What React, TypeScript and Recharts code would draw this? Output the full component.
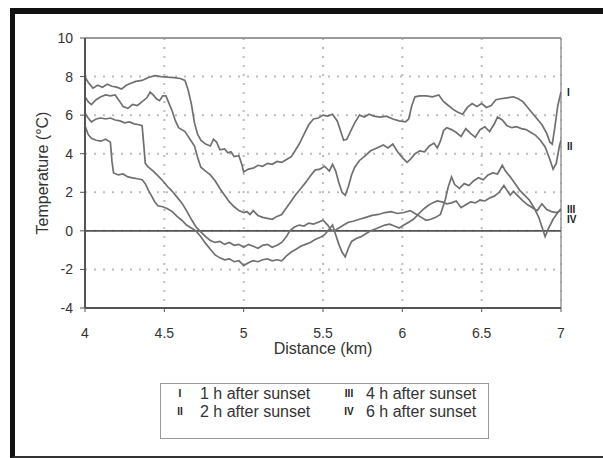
import React from 'react';
import { LineChart, Line, XAxis, YAxis, CartesianGrid, ReferenceLine, ReferenceDot } from 'recharts';

// [distance km, temperature °C]
const oneHour = [
  [4.0, 7.98], [4.02, 7.7], [4.05, 7.4], [4.08, 7.55], [4.11, 7.45], [4.14, 7.6], [4.17, 7.5], [4.2, 7.45],
  [4.23, 7.35], [4.26, 7.55], [4.29, 7.65], [4.32, 7.75], [4.36, 7.8], [4.4, 7.95], [4.44, 8.05], [4.48, 8.0],
  [4.52, 7.97], [4.56, 7.95], [4.6, 7.9], [4.63, 7.8], [4.65, 7.3], [4.67, 6.6], [4.69, 5.6], [4.71, 5.0],
  [4.73, 4.7], [4.76, 4.5], [4.79, 4.4], [4.81, 4.75], [4.83, 4.6], [4.85, 4.2], [4.88, 4.25], [4.9, 4.05],
  [4.92, 4.1], [4.94, 3.85], [4.97, 3.9], [4.99, 3.4], [5.0, 3.05], [5.03, 3.2], [5.06, 3.25], [5.09, 3.4],
  [5.12, 3.35], [5.15, 3.5], [5.18, 3.45], [5.21, 3.6], [5.24, 3.55], [5.27, 3.7], [5.3, 3.85], [5.32, 4.1],
  [5.35, 4.5], [5.38, 5.0], [5.41, 5.5], [5.44, 5.8], [5.47, 5.85], [5.5, 6.0], [5.53, 5.95], [5.56, 6.05],
  [5.59, 5.7], [5.61, 5.2], [5.63, 4.7], [5.65, 4.75], [5.67, 5.1], [5.7, 5.6], [5.73, 6.0], [5.76, 5.9],
  [5.79, 6.05], [5.82, 5.95], [5.86, 5.9], [5.9, 5.95], [5.94, 5.8], [5.98, 5.7], [6.02, 5.65], [6.04, 5.8],
  [6.06, 6.5], [6.08, 6.95], [6.11, 7.0], [6.15, 7.0], [6.19, 6.95], [6.23, 7.05], [6.26, 6.7], [6.29, 6.5],
  [6.32, 6.3], [6.35, 6.15], [6.38, 6.05], [6.41, 6.4], [6.44, 6.6], [6.47, 6.45], [6.5, 6.6], [6.53, 6.4],
  [6.56, 6.5], [6.59, 6.8], [6.62, 6.85], [6.66, 6.9], [6.7, 6.95], [6.73, 6.85], [6.76, 6.7], [6.79, 6.4],
  [6.82, 6.1], [6.85, 5.8], [6.88, 5.5], [6.91, 5.05], [6.93, 4.6], [6.945, 4.5], [6.96, 5.3], [6.98, 6.5],
  [7.0, 7.2],
];

const twoHours = [
  [4.0, 6.95], [4.02, 6.7], [4.04, 6.55], [4.07, 6.8], [4.1, 6.95], [4.13, 7.05], [4.16, 7.0], [4.19, 7.05],
  [4.22, 6.7], [4.24, 6.45], [4.27, 6.35], [4.3, 6.55], [4.33, 6.5], [4.36, 6.7], [4.39, 6.9], [4.41, 7.2],
  [4.43, 7.05], [4.45, 6.85], [4.47, 6.75], [4.49, 7.0], [4.51, 7.0], [4.53, 6.6], [4.55, 6.2], [4.57, 5.7],
  [4.59, 5.35], [4.61, 5.25], [4.63, 5.15], [4.65, 4.9], [4.67, 4.65], [4.69, 4.4], [4.71, 3.8], [4.73, 3.3],
  [4.76, 3.1], [4.79, 2.9], [4.82, 2.6], [4.85, 2.2], [4.88, 1.85], [4.91, 1.5], [4.94, 1.25], [4.97, 1.05],
  [5.0, 0.95], [5.02, 1.0], [5.04, 0.85], [5.06, 1.05], [5.09, 0.8], [5.12, 0.7], [5.15, 0.65], [5.18, 0.6],
  [5.21, 0.75], [5.24, 0.85], [5.27, 1.2], [5.3, 1.55], [5.33, 1.9], [5.36, 2.2], [5.39, 2.5], [5.42, 2.85],
  [5.45, 3.15], [5.48, 3.2], [5.51, 3.35], [5.54, 3.1], [5.56, 3.45], [5.58, 3.1], [5.6, 2.5], [5.62, 2.0],
  [5.64, 1.85], [5.66, 2.3], [5.68, 2.9], [5.7, 3.3], [5.73, 3.65], [5.76, 3.85], [5.8, 4.15], [5.84, 4.3],
  [5.88, 4.45], [5.91, 4.3], [5.94, 4.5], [5.97, 4.1], [6.0, 3.8], [6.03, 3.55], [6.05, 3.7], [6.08, 4.0],
  [6.11, 4.15], [6.14, 4.1], [6.17, 4.4], [6.2, 4.55], [6.22, 4.3], [6.24, 4.65], [6.26, 5.2], [6.28, 5.35],
  [6.31, 5.25], [6.34, 5.1], [6.37, 4.9], [6.4, 5.3], [6.43, 5.05], [6.46, 4.85], [6.49, 5.25], [6.52, 5.4],
  [6.55, 5.15], [6.58, 5.55], [6.6, 5.9], [6.63, 5.75], [6.66, 5.45], [6.69, 5.35], [6.72, 5.4], [6.75, 5.3],
  [6.78, 5.25], [6.81, 5.1], [6.84, 4.95], [6.87, 4.7], [6.9, 4.35], [6.93, 3.7], [6.95, 3.2], [6.97, 3.5],
  [6.99, 4.4], [7.0, 4.7],
];

const fourHours = [
  [4.0, 6.1], [4.02, 5.85], [4.04, 5.65], [4.07, 5.8], [4.1, 5.85], [4.13, 5.8], [4.16, 5.85], [4.19, 5.75],
  [4.22, 5.7], [4.25, 5.6], [4.28, 5.65], [4.31, 5.55], [4.34, 5.5], [4.36, 5.45], [4.37, 4.5], [4.38, 3.5],
  [4.4, 3.3], [4.43, 3.1], [4.46, 2.85], [4.49, 2.6], [4.52, 2.3], [4.55, 2.05], [4.58, 1.75], [4.61, 1.45],
  [4.64, 1.05], [4.67, 0.6], [4.7, 0.2], [4.73, -0.05], [4.76, -0.3], [4.79, -0.5], [4.82, -0.6], [4.85, -0.55],
  [4.88, -0.7], [4.91, -0.6], [4.94, -0.75], [4.97, -0.7], [5.0, -0.85], [5.03, -0.7], [5.06, -0.8], [5.09, -0.9],
  [5.12, -0.75], [5.15, -0.7], [5.18, -0.85], [5.21, -0.75], [5.24, -0.6], [5.27, -0.3], [5.29, 0.0], [5.32, 0.2],
  [5.35, 0.3], [5.38, 0.25], [5.41, 0.4], [5.44, 0.35], [5.47, 0.45], [5.5, 0.55], [5.53, 0.3], [5.55, 0.05],
  [5.57, 0.0], [5.6, 0.15], [5.63, 0.3], [5.66, 0.45], [5.69, 0.5], [5.73, 0.6], [5.77, 0.7], [5.81, 0.8],
  [5.85, 0.85], [5.89, 0.95], [5.93, 1.0], [5.97, 0.9], [6.01, 0.95], [6.05, 1.05], [6.09, 0.85], [6.12, 0.7],
  [6.15, 0.55], [6.18, 0.6], [6.21, 0.7], [6.24, 0.85], [6.27, 1.6], [6.29, 2.3], [6.31, 2.8], [6.33, 2.4],
  [6.36, 2.2], [6.39, 2.45], [6.42, 2.35], [6.45, 2.6], [6.48, 2.75], [6.51, 2.65], [6.54, 2.9], [6.57, 3.0],
  [6.6, 2.95], [6.63, 3.4], [6.65, 3.1], [6.68, 2.8], [6.71, 2.45], [6.74, 2.1], [6.77, 1.85], [6.8, 1.6],
  [6.83, 1.2], [6.86, 0.7], [6.88, 0.2], [6.9, -0.3], [6.92, 0.1], [6.95, 0.6], [6.98, 0.95], [7.0, 1.15],
];

const sixHours = [
  [4.0, 5.45], [4.02, 5.0], [4.04, 4.8], [4.07, 4.7], [4.1, 4.65], [4.13, 4.75], [4.16, 4.6], [4.17, 3.6],
  [4.18, 3.0], [4.21, 2.9], [4.24, 2.95], [4.27, 2.8], [4.3, 2.75], [4.33, 2.7], [4.36, 2.65], [4.38, 2.45],
  [4.4, 2.1], [4.42, 1.8], [4.44, 1.5], [4.46, 1.3], [4.49, 1.25], [4.52, 1.15], [4.55, 1.0], [4.58, 0.75],
  [4.61, 0.55], [4.64, 0.3], [4.67, 0.15], [4.7, 0.0], [4.73, -0.3], [4.76, -0.65], [4.79, -0.95], [4.82, -1.25],
  [4.85, -1.4], [4.88, -1.5], [4.91, -1.45], [4.94, -1.6], [4.97, -1.55], [5.0, -1.8], [5.03, -1.65], [5.06, -1.55],
  [5.09, -1.6], [5.12, -1.5], [5.15, -1.45], [5.18, -1.55], [5.21, -1.5], [5.24, -1.55], [5.27, -1.3], [5.3, -1.1],
  [5.33, -0.95], [5.36, -0.8], [5.39, -0.7], [5.42, -0.6], [5.45, -0.45], [5.48, -0.35], [5.51, -0.2], [5.54, 0.1],
  [5.56, 0.3], [5.58, -0.2], [5.6, -0.7], [5.62, -1.1], [5.64, -1.35], [5.66, -0.9], [5.68, -0.55], [5.71, -0.4],
  [5.74, -0.3], [5.77, -0.15], [5.8, 0.0], [5.83, 0.1], [5.86, 0.2], [5.89, 0.3], [5.92, 0.35], [5.95, 0.25],
  [5.98, 0.15], [6.01, 0.3], [6.04, 0.45], [6.07, 0.6], [6.1, 0.85], [6.13, 1.1], [6.16, 1.3], [6.19, 1.45],
  [6.22, 1.55], [6.25, 1.5], [6.28, 1.4], [6.31, 1.45], [6.34, 1.55], [6.37, 1.2], [6.4, 1.35], [6.43, 1.5],
  [6.46, 1.45], [6.49, 1.6], [6.52, 1.55], [6.55, 1.7], [6.58, 1.8], [6.61, 2.0], [6.64, 2.35], [6.66, 2.1],
  [6.68, 1.85], [6.7, 2.05], [6.73, 1.8], [6.76, 1.55], [6.79, 1.35], [6.82, 1.2], [6.85, 1.05], [6.88, 1.4],
  [6.91, 1.1], [6.94, 1.0], [6.97, 0.95], [7.0, 1.05],
];

const seriesNames = ['1 h after sunset', '2 h after sunset', '4 h after sunset', '6 h after sunset'];
const numerals = ['I', 'II', 'III', 'IV'];
const xTicks = [4, 4.5, 5, 5.5, 6, 6.5, 7];
const yTicks = [-4, -2, 0, 2, 4, 6, 8, 10];

const allSeries = [oneHour, twoHours, fourHours, sixHours].map((s) => s.map(([d, t]) => ({ d, t })));
// little vertical nudges for the roman numerals at the right edge
const tagNudge = [0, 6, 1, 9];

const FONT = '"Liberation Sans", Arial, sans-serif';
const INK = '#333';
const LINE = '#707070';

// rotated y title, placed from the axis viewBox
const YTitle = (props: any) => {
  const vb = props.viewBox || { x: 0, y: 0, width: 0, height: 0 };
  const cx = vb.x + 12;
  const cy = vb.y + vb.height / 2;
  return (
    <text
      x={cx}
      y={cy}
      transform={`rotate(-90, ${cx}, ${cy})`}
      textAnchor="middle"
      dominantBaseline="central"
      fontSize={16}
      fill={INK}
    >
      Temperature (°C)
    </text>
  );
};

const App: React.FC = () => {
  return (
    <div style={{ position: 'absolute', left: 0, top: 0, width: 603, height: 458, background: '#fff', fontFamily: FONT }}>
      <div
        style={{
          position: 'absolute', left: 10, top: 8, width: 593, height: 450, boxSizing: 'border-box',
          borderTop: '6px solid #111', borderLeft: '5px solid #111', borderBottom: '2px solid #333',
        }}
      />
      <div style={{ position: 'absolute', left: 0, top: 0 }}>
        <LineChart width={603} height={458} margin={{ top: 38, right: 42, left: 30, bottom: 120 }} style={{ fontFamily: FONT }}>
          <CartesianGrid stroke="#bdbdbd" strokeWidth={2} strokeDasharray="2 7" />
          <XAxis
            type="number"
            dataKey="d"
            domain={[4, 7]}
            ticks={xTicks}
            allowDataOverflow
            height={30}
            axisLine={{ stroke: '#555', strokeWidth: 2 }}
            tickLine={{ stroke: '#555' }}
            tickSize={4}
            tickMargin={16}
            tick={{ fontSize: 14, fill: INK }}
            label={{ value: 'Distance (km)', position: 'bottom', offset: 5, fontSize: 16, fill: INK }}
          />
          <YAxis
            type="number"
            domain={[-4, 10]}
            ticks={yTicks}
            allowDataOverflow
            width={55}
            axisLine={{ stroke: '#555', strokeWidth: 2 }}
            tickLine={{ stroke: '#555' }}
            tickSize={5}
            tickMargin={7}
            tick={{ fontSize: 14, fill: INK }}
            label={<YTitle />}
          />
          <ReferenceLine y={10} stroke="#999" strokeWidth={2} />
          <ReferenceLine x={7} stroke="#999" strokeWidth={1.5} />
          <ReferenceLine y={0} stroke="#555" strokeWidth={1.6} />
          {allSeries.map((data, i) => (
            <Line
              key={seriesNames[i]}
              data={data}
              dataKey="t"
              name={seriesNames[i]}
              type="linear"
              stroke={LINE}
              strokeWidth={1.7}
              dot={false}
              isAnimationActive={false}
            />
          ))}
          {allSeries.map((data, i) => (
            <ReferenceDot
              key={numerals[i]}
              x={data[data.length - 1].d}
              y={data[data.length - 1].t}
              r={0}
              fill="none"
              stroke="none"
              label={{
                value: numerals[i], position: 'right', offset: 6, dy: tagNudge[i],
                fontSize: 10, fontWeight: 'bold', fill: '#222',
              }}
            />
          ))}
        </LineChart>
      </div>
      <div
        style={{
          position: 'absolute', left: 160, top: 383, width: 329, height: 56, boxSizing: 'border-box',
          border: '1px solid #999', background: '#fff', fontSize: 16, color: INK, lineHeight: '18px',
        }}
      >
        {seriesNames.map((name, i) => {
          const col = Math.floor(i / 2);
          const row = i % 2;
          return (
            <React.Fragment key={name}>
              <span
                style={{
                  position: 'absolute', left: col === 0 ? 8 : 177, width: 22, textAlign: 'center',
                  top: 1 + row * 18, fontSize: 10, fontWeight: 'bold', color: '#222',
                }}
              >
                {numerals[i]}
              </span>
              <span style={{ position: 'absolute', left: col === 0 ? 39 : 205, top: 1 + row * 18, whiteSpace: 'nowrap' }}>
                {name}
              </span>
            </React.Fragment>
          );
        })}
      </div>
    </div>
  );
};

export default App;
